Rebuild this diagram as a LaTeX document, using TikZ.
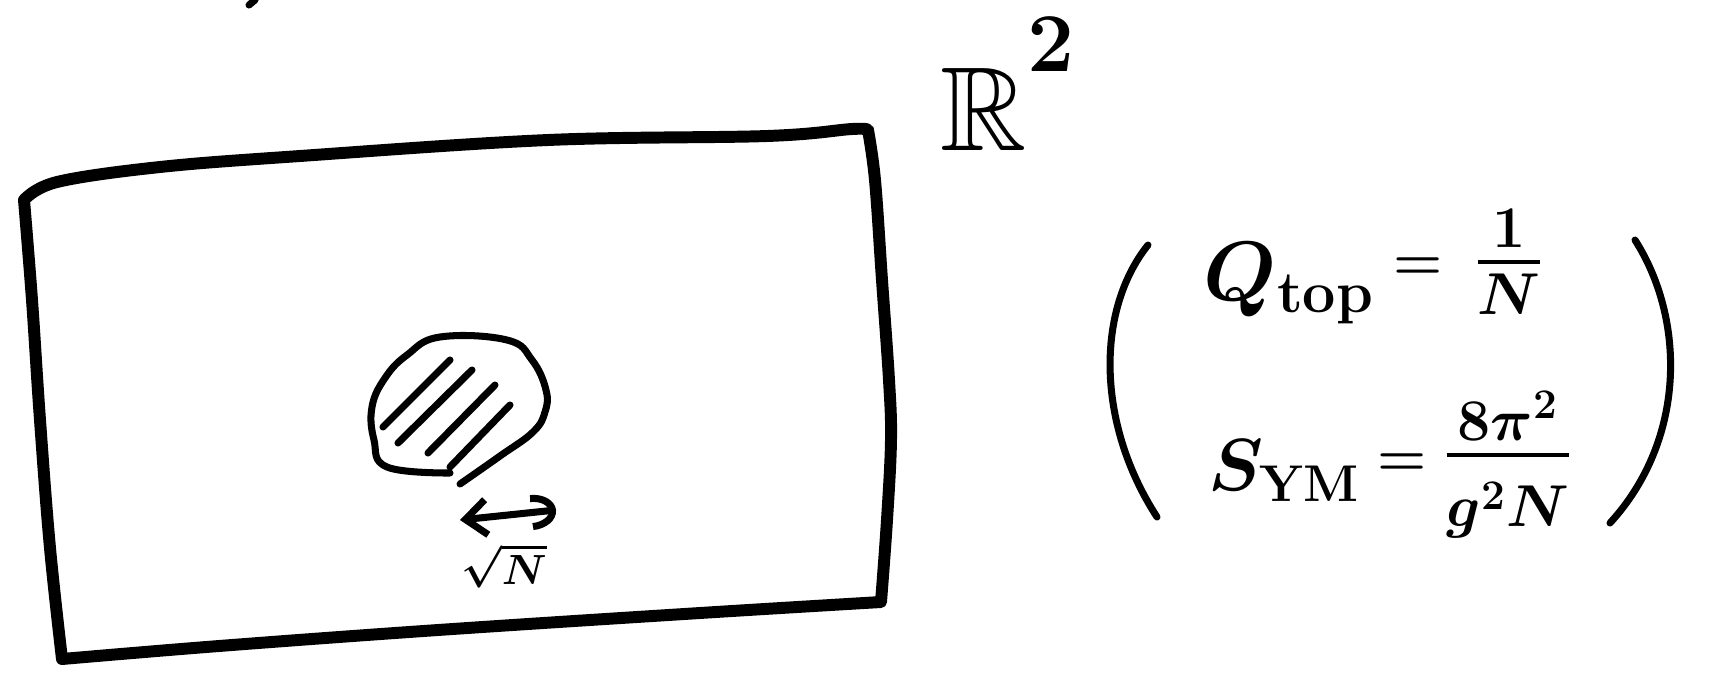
\RequirePackage{fix-cm}
\documentclass[tikz,border=0pt]{standalone}
\usepackage{amsmath,amssymb}
\DeclareFontFamily{U}{msb}{}
\DeclareFontShape{U}{msb}{m}{n}{<-> msbm10}{}
\usetikzlibrary{arrows.meta}
\tikzset{pen/.style={line width=3.4pt,line cap=round,line join=round},
  thinpen/.style={line width=2pt,line cap=round,line join=round},
  ink/.style={inner sep=0pt,font=\fontsize{24}{28}\selectfont\boldmath},
  eq/.style={inner sep=0pt,font=\fontsize{16}{18}\selectfont\boldmath}}
\begin{document}
\begin{tikzpicture}[x=0.01cm,y=-0.01cm]
\useasboundingbox (0,0) rectangle (1717,678);
\draw[thinpen] (255,0) -- (249,5);
\draw[pen] plot[smooth,tension=0.6] coordinates {(24,200) (57,182) (160,167) (300,156) (548,140) (767,136) (852,129) (868,130)}
  -- plot[smooth,tension=0.6] coordinates {(868,130) (875,180) (882,280) (889,380) (891,440) (887,520) (881,602)}
  -- plot[smooth,tension=0.6] coordinates {(881,602) (700,613) (438,630) (219,646) (62,659)}
  -- plot[smooth,tension=0.6] coordinates {(62,659) (50,548) (40,420) (32,300) (24,200)};
\draw[thinpen] plot[smooth,tension=0.7] coordinates {(450,473) (387,467) (374,440) (372,407) (385,378) (407,355) (440,337) (507,340) (532,360) (546,390) (545,412) (533,432) (500,456) (460,484)};
\draw[thinpen] (383,427) -- (450,360) (398,443) -- (472,370) (428,453) -- (495,385) (450,467) -- (510,405);
\coordinate (l) at (460,520);
\coordinate (r) at (556,510);
\draw[thinpen,{Straight Barb[length=6pt,width=10pt]}-{Arc Barb[length=7pt,width=10pt]}] (l) -- (r);
\node[inner sep=0pt,font=\fontsize{12}{14}\selectfont\boldmath] (root) at (504,566) {$\sqrt{N}$};
\node[anchor=base west,inner sep=0pt,font=\fontsize{34}{40}\selectfont\boldmath] (plane) at (940,150) {$\mathbb{R}^{\raisebox{10pt}{$\scriptstyle2$}}$};
\draw[thinpen] (1148,245) .. controls (1096,310) and (1096,423) .. (1157,517);
\draw[thinpen] (1635,240) .. controls (1686,320) and (1686,440) .. (1610,523);
\node[ink,anchor=base west] (qtop) at (1203,300) {$Q_{\mathrm{top}}$};
\node[eq,anchor=base] (qeq) at (1418,279) {$=$};
\node[ink,anchor=base] (qfrac) at (1509,283) {$\frac{1}{N}$};
\node[ink,anchor=base west,font=\fontsize{21}{25}\selectfont\boldmath] (sym) at (1208,490) {$S_{\mathrm{YM}}$};
\node[eq,anchor=base] (seq) at (1402,475) {$=$};
\node[ink,anchor=base] (sfrac) at (1508,476) {$\frac{8\pi^2}{\rule{0pt}{19pt}g^2N}$};
\end{tikzpicture}
\end{document}
